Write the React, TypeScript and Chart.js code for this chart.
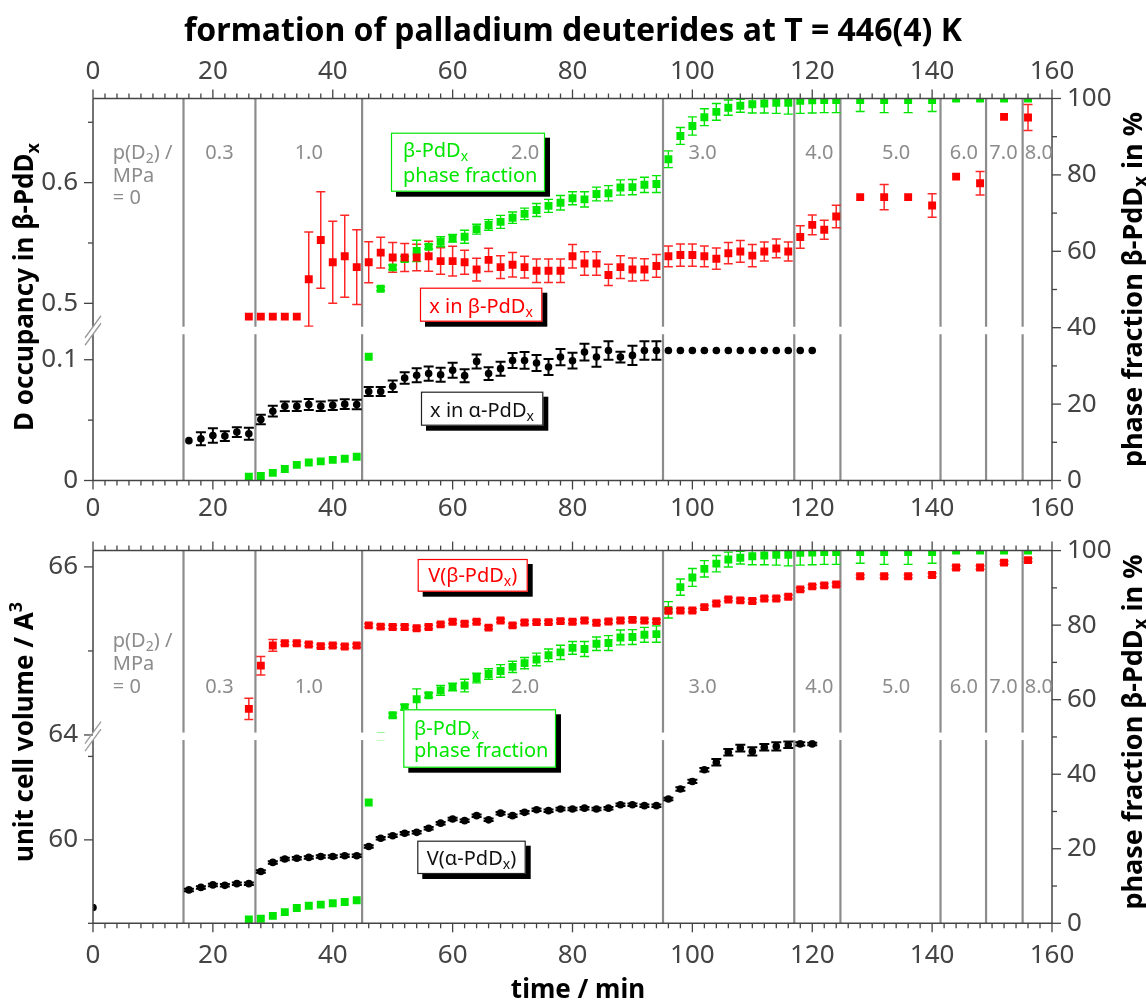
import React, { useEffect, useRef } from 'react';
import { Chart, registerables } from 'chart.js';

Chart.register(...registerables);

const FONT = "'Noto Sans', 'DejaVu Sans', sans-serif";
const AXIS = '#444444';
const GREY = '#8c8c8c';
const RED = '#ff0000';
const GREEN = '#00e600';
const BLACK = '#000000';

// ---------------- time axis ----------------
const timeMin = 0;
const timeMax = 160;
const timeTicks = Array.from({ length: 81 }, (_, i) => i * 2);
const timeLabelEvery = 20;

// ---------------- pressure steps ----------------
const pressureChangeTimes = [15.1, 27.1, 44.9, 95.1, 117.0, 124.7, 141.4, 149.0, 155.1];
const pressureValues = ['0.3', '1.0', '2.0', '3.0', '4.0', '5.0', '6.0', '7.0', '8.0'];
const pressureLabelTimes = [21.1, 36.0, 72.1, 101.7, 121.2, 134.0, 145.3, 151.9, 157.8];
const pressureHeaderTime = 3.3;

// ---------------- series ----------------
const timeBeta = [26, 28, 30, 32, 34, 36, 38, 40, 42, 44,
  46, 48, 50, 52, 54, 56, 58, 60, 62, 64,
  66, 68, 70, 72, 74, 76, 78, 80, 82, 84,
  86, 88, 90, 92, 94, 96, 98, 100, 102, 104,
  106, 108, 110, 112, 114, 116, 118, 120, 122, 124,
  128, 132, 136, 140, 144, 148, 152, 156];

const xBeta = [0.489, 0.489, 0.489, 0.489, 0.489, 0.520, 0.5525, 0.534, 0.539, 0.530,
  0.534, 0.542, 0.538, 0.538, 0.538, 0.539, 0.535, 0.535, 0.534, 0.528,
  0.536, 0.530, 0.532, 0.530, 0.527, 0.527, 0.527, 0.539, 0.533, 0.533,
  0.5235, 0.530, 0.528, 0.528, 0.531, 0.539, 0.540, 0.540, 0.539, 0.537,
  0.5415, 0.543, 0.5395, 0.543, 0.5455, 0.543, 0.555, 0.565, 0.561, 0.572,
  0.588, 0.588, 0.588, 0.581, 0.605, 0.5995, 0.6545, 0.654];

const xBetaErr = [0, 0, 0, 0, 0, 0.039, 0.040, 0.034, 0.034, 0.031,
  0.017, 0.0127, 0.0123, 0.0116, 0.011, 0.0124, 0.011, 0.0124, 0.010, 0.0094,
  0.0097, 0.0094, 0.0101, 0.009, 0.0097, 0.0097, 0.0097, 0.0097, 0.0097, 0.0097,
  0.0088, 0.0095, 0.0095, 0.009, 0.0094, 0.0086, 0.0092, 0.0092, 0.0086, 0.0088,
  0.0088, 0.009, 0.0092, 0.0079, 0.0077, 0.0079, 0.0093, 0.0081, 0.0079, 0.0093,
  0, 0.0104, 0, 0.0097, 0, 0.0097, 0, 0.0108];

const timeAlpha = [16, 18, 20, 22, 24, 26, 28, 30, 32, 34,
  36, 38, 40, 42, 44, 46, 48, 50, 52, 54,
  56, 58, 60, 62, 64, 66, 68, 70, 72, 74,
  76, 78, 80, 82, 84, 86, 88, 90, 92, 94,
  96, 98, 100, 102, 104, 106, 108, 110, 112, 114, 116, 118, 120];

const xAlpha = [0.033, 0.0346, 0.0373, 0.0368, 0.0401, 0.0387, 0.0505, 0.0574, 0.0615, 0.0615,
  0.0629, 0.0615, 0.0623, 0.0632, 0.0629, 0.0737, 0.0737, 0.078, 0.0849, 0.0871,
  0.0885, 0.0876, 0.0912, 0.0868, 0.0986, 0.0885, 0.0926, 0.0994, 0.0994, 0.0973,
  0.094, 0.1022, 0.0992, 0.1063, 0.1022, 0.1077, 0.1022, 0.1036, 0.1077, 0.1077,
  0.1077, 0.1077, 0.1077, 0.1077, 0.1077, 0.1077, 0.1077, 0.1077, 0.1077, 0.1077, 0.1077, 0.1077, 0.1077];

const xAlphaErr = [0, 0.0054, 0.006, 0.004, 0.004, 0.005, 0.004, 0.0045, 0.004, 0.004,
  0.0045, 0.004, 0.004, 0.004, 0.004, 0.0037, 0.0037, 0.0048, 0.0048, 0.0058,
  0.0059, 0.0058, 0.0062, 0.0054, 0.0058, 0.0052, 0.0058, 0.0062, 0.0069, 0.0066,
  0.0067, 0.0067, 0.0065, 0.0069, 0.0081, 0.0077, 0.0045, 0.008, 0.0077, 0.0077,
  0, 0, 0, 0, 0, 0, 0, 0, 0, 0, 0, 0, 0];

const phaseFraction = [1.0, 1.2, 2.0, 3.0, 4.1, 4.7, 5.0, 5.4, 5.7, 6.2,
  32.4, 50.2, 55.8, 58.0, 60.1, 61.2, 62.5, 63.4, 63.8, 65.8,
  66.9, 67.7, 68.8, 69.8, 70.8, 71.9, 72.7, 73.9, 73.6, 75.0,
  75.2, 76.7, 76.8, 77.4, 77.6, 84.1, 90.2, 92.8, 95.1, 96.5,
  97.6, 98.1, 98.5, 98.7, 98.9, 98.9, 99.4, 99.5, 99.6, 99.6,
  99.6, 99.6, 99.6, 99.6, 100, 100, 100, 100];

const phaseFractionErr = [0, 0, 0, 0, 0, 0, 0, 0, 0, 0,
  0, 0.5, 0.6, 0.7, 2.8, 0.6, 1.3, 1.0, 1.7, 1.3,
  1.4, 1.7, 1.5, 1.5, 1.7, 1.7, 1.9, 1.7, 2.0, 1.8,
  2.0, 2.0, 2.0, 2.0, 2.2, 2.2, 2.2, 2.4, 2.2, 2.2,
  2.0, 1.7, 2.3, 2.5, 2.8, 3.0, 3.3, 3.3, 3.3, 3.3,
  3.0, 3.3, 3.3, 3.0, 0, 0, 0, 0];

const volBeta = [64.311, 64.825, 65.065, 65.092, 65.092, 65.077, 65.057, 65.065, 65.053, 65.065,
  65.304, 65.289, 65.285, 65.285, 65.269, 65.285, 65.316, 65.347, 65.324, 65.347,
  65.277, 65.362, 65.304, 65.339, 65.343, 65.343, 65.355, 65.347, 65.362, 65.335,
  65.35, 65.362, 65.37, 65.362, 65.355, 65.478, 65.482, 65.482, 65.521, 65.565,
  65.613, 65.602, 65.594, 65.625, 65.625, 65.645, 65.733, 65.768, 65.78, 65.791,
  65.888, 65.888, 65.888, 65.904, 65.993, 65.993, 66.051, 66.081];

const volBetaErr = [0.126, 0.11, 0.07, 0.02, 0.02, 0.02, 0.02, 0.02, 0.02, 0.02,
  0.02, 0.02, 0.02, 0.02, 0.02, 0.02, 0.02, 0.02, 0.02, 0.02,
  0.02, 0.02, 0.02, 0.02, 0.02, 0.02, 0.02, 0.02, 0.02, 0.02,
  0.02, 0.02, 0.02, 0.02, 0.02, 0.02, 0.02, 0.02, 0.02, 0.02,
  0.02, 0.02, 0.02, 0.02, 0.02, 0.02, 0.02, 0.02, 0.02, 0.02,
  0.02, 0.02, 0.02, 0.02, 0.02, 0.02, 0.02, 0.02];

const timeVolAlpha = [0, 16, 18, 20, 22, 24, 26, 28, 30, 32, 34,
  36, 38, 40, 42, 44, 46, 48, 50, 52, 54,
  56, 58, 60, 62, 64, 66, 68, 70, 72, 74,
  76, 78, 80, 82, 84, 86, 88, 90, 92, 94,
  96, 98, 100, 102, 104, 106, 108, 110, 112, 114,
  116, 118, 120];

const volAlpha = [59.19, 59.40, 59.43, 59.46, 59.455, 59.475, 59.475, 59.62, 59.73, 59.77, 59.78,
  59.79, 59.80, 59.80, 59.81, 59.81, 59.92, 60.02, 60.05, 60.08, 60.09,
  60.14, 60.20, 60.25, 60.23, 60.29, 60.24, 60.32, 60.29, 60.33, 60.36,
  60.35, 60.37, 60.37, 60.38, 60.37, 60.38, 60.42, 60.42, 60.41, 60.41,
  60.49, 60.61, 60.70, 60.84, 60.93, 61.05, 61.10, 61.06, 61.11, 61.12,
  61.14, 61.15, 61.15];

const volAlphaErr = [0, 0.015, 0.015, 0.015, 0.015, 0.015, 0.015, 0.015, 0.015, 0.015, 0.015,
  0.015, 0.015, 0.015, 0.015, 0.015, 0.015, 0.015, 0.015, 0.015, 0.015,
  0.015, 0.015, 0.015, 0.015, 0.015, 0.015, 0.015, 0.015, 0.015, 0.015,
  0.015, 0.015, 0.015, 0.015, 0.015, 0.015, 0.015, 0.015, 0.015, 0.015,
  0.015, 0.02, 0.02, 0.02, 0.04, 0.04, 0.04, 0.05, 0.04, 0.05,
  0.04, 0.02, 0.015];

// ---------------- axis ticks ----------------
const occUpperTicks = [0.5, 0.55, 0.6, 0.65];
const occUpperLabels = ['0.5', '', '0.6', ''];
const occLowerTicks = [0, 0.05, 0.1];
const occLowerLabels = ['0', '', '0.1'];
const volUpperTicks = [64, 65, 66];
const volUpperLabels = ['64', '', '66'];
const volLowerTicks = [59, 60, 61];
const volLowerLabels = ['', '60', ''];
const fracTicks = [0, 10, 20, 30, 40, 50, 60, 70, 80, 90, 100];
const fracLabels = ['0', '', '20', '', '40', '', '60', '', '80', '', '100'];

// axis ranges (broken left axes)
const occUpperRange = [0.4775, 0.6697];
const occLowerRange = [0, 0.1242];
const volUpperRange = [63.984, 66.194];
const volLowerRange = [59.0, 61.241];
const fracRange = [0, 100];

// ---------------- drawing helpers ----------------
type Seg = { t: string; sub?: boolean; sup?: boolean };

function drawRich(ctx: CanvasRenderingContext2D, segs: Seg[], x: number, y: number, size: number,
  bold: boolean, color: string, align: 'left' | 'center' | 'right') {
  const w = bold ? 'bold ' : '';
  const big = `${w}${size}px ${FONT}`;
  const small = `${w}${Math.round(size * 0.7)}px ${FONT}`;
  const widths: number[] = [];
  let total = 0;
  for (const s of segs) {
    ctx.font = s.sub || s.sup ? small : big;
    const m = ctx.measureText(s.t).width;
    widths.push(m);
    total += m;
  }
  let cx = align === 'left' ? x : align === 'center' ? x - total / 2 : x - total;
  const base = y + size * 0.36;
  ctx.fillStyle = color;
  ctx.textAlign = 'left';
  ctx.textBaseline = 'alphabetic';
  segs.forEach((s, i) => {
    ctx.font = s.sub || s.sup ? small : big;
    const dy = s.sub ? size * 0.2 : s.sup ? -size * 0.42 : 0;
    ctx.fillText(s.t, cx, base + dy);
    cx += widths[i];
  });
}

function drawRotated(ctx: CanvasRenderingContext2D, segs: Seg[], cx: number, cy: number, size: number, color: string) {
  ctx.save();
  ctx.translate(cx, cy);
  ctx.rotate(-Math.PI / 2);
  drawRich(ctx, segs, 0, 0, size, true, color, 'center');
  ctx.restore();
}

interface BoxSpec {
  x1: number; y1: number; x2: number; y2: number;
  border: string; color: string; lines: Seg[][]; tx: number; ty: number[]; align: 'left' | 'center';
}

function drawBox(ctx: CanvasRenderingContext2D, b: BoxSpec) {
  const w = b.x2 - b.x1;
  const h = b.y2 - b.y1;
  ctx.fillStyle = '#000';
  ctx.fillRect(b.x1 + 5, b.y1 + 5, w, h);
  ctx.fillStyle = '#fff';
  ctx.fillRect(b.x1, b.y1, w, h);
  ctx.strokeStyle = b.border;
  ctx.lineWidth = 1.2;
  ctx.strokeRect(b.x1 + 0.5, b.y1 + 0.5, w - 1, h - 1);
  b.lines.forEach((segs, i) => drawRich(ctx, segs, b.tx, b.ty[i], 20, false, b.color, b.align));
}

function line(ctx: CanvasRenderingContext2D, x1: number, y1: number, x2: number, y2: number) {
  ctx.beginPath();
  ctx.moveTo(x1, y1);
  ctx.lineTo(x2, y2);
  ctx.stroke();
}

const BETA: Seg[] = [{ t: 'β-PdD' }, { t: 'x', sub: true }];
const HEADER: Seg[][] = [[{ t: 'p(D' }, { t: '2', sub: true }, { t: ') /' }], [{ t: 'MPa' }], [{ t: '= 0' }]];

interface ErrSet { ds: number; times: number[]; vals: number[]; errs: number[]; color: string; lw: number; cap: number }

interface PanelSpec {
  key: string;
  errors: ErrSet[];
  boxes: BoxSpec[];
  headerY: number[];
  numberY: number;
  draw: (ctx: CanvasRenderingContext2D, chart: any) => void;
}

function decorPlugin(spec: PanelSpec) {
  return {
    id: 'decor' + spec.key,
    beforeDatasetsDraw(chart: any) {
      const ctx: CanvasRenderingContext2D = chart.ctx;
      const a = chart.chartArea;
      const sx = chart.scales.x;
      ctx.save();
      ctx.strokeStyle = GREY;
      ctx.lineWidth = 2.2;
      for (const t of pressureChangeTimes) {
        const px = sx.getPixelForValue(t);
        line(ctx, px, a.top, px, a.bottom);
      }
      for (const es of spec.errors) {
        const meta = chart.getDatasetMeta(es.ds);
        const ys = chart.scales[meta.yAxisID];
        ctx.save();
        ctx.beginPath();
        ctx.rect(a.left, ys.top, a.right - a.left, ys.bottom - ys.top);
        ctx.clip();
        ctx.strokeStyle = es.color;
        ctx.lineWidth = es.lw;
        es.vals.forEach((v, j) => {
          const e = es.errs[j];
          if (!e) return;
          const x = sx.getPixelForValue(es.times[j]);
          const y1 = ys.getPixelForValue(v + e);
          const y2 = ys.getPixelForValue(v - e);
          ctx.beginPath();
          ctx.moveTo(x, y1); ctx.lineTo(x, y2);
          ctx.moveTo(x - es.cap, y1); ctx.lineTo(x + es.cap, y1);
          ctx.moveTo(x - es.cap, y2); ctx.lineTo(x + es.cap, y2);
          ctx.stroke();
        });
        ctx.restore();
      }
      ctx.restore();
    },
    afterDatasetsDraw(chart: any) {
      const ctx: CanvasRenderingContext2D = chart.ctx;
      const a = chart.chartArea;
      const yb = chart.scales.yHi.bottom;
      const g = 3.75;
      ctx.save();
      // axis break band
      ctx.fillStyle = '#ffffff';
      ctx.fillRect(a.left + 1, yb - g, a.right - a.left - 2, 2 * g);
      // frame
      ctx.strokeStyle = AXIS;
      ctx.lineWidth = 1.5;
      line(ctx, a.left, a.top, a.right, a.top);
      line(ctx, a.left, a.bottom, a.right, a.bottom);
      line(ctx, a.right, a.top, a.right, a.bottom);
      line(ctx, a.left, a.top, a.left, yb - g);
      line(ctx, a.left, yb + g, a.left, a.bottom);
      // tick marks
      ctx.lineWidth = 1.3;
      for (const t of chart.scales.x.ticks) {
        const px = chart.scales.x.getPixelForValue(t.value);
        const len = t.value % timeLabelEvery === 0 ? 9 : 5;
        line(ctx, px, a.bottom, px, a.bottom + len);
      }
      for (const t of chart.scales.x2.ticks) {
        const px = chart.scales.x2.getPixelForValue(t.value);
        const len = t.value % timeLabelEvery === 0 ? 9 : 5;
        line(ctx, px, a.top, px, a.top - len);
      }
      for (const id of ['yHi', 'yLo']) {
        const s = chart.scales[id];
        for (const t of s.ticks) {
          const py = s.getPixelForValue(t.value);
          line(ctx, a.left, py, a.left - (t.label ? 9 : 5), py);
        }
      }
      const sr = chart.scales.yR;
      for (const t of sr.ticks) {
        const py = sr.getPixelForValue(t.value);
        line(ctx, a.right, py, a.right + (t.label ? 9 : 5), py);
      }
      // break marker
      ctx.strokeStyle = '#9a9a9a';
      ctx.lineWidth = 1.3;
      for (const d of [-g, g]) line(ctx, a.left - 8, yb + d + 11, a.left + 8, yb + d - 11);
      // labelled boxes
      spec.boxes.forEach((b) => drawBox(ctx, b));
      // pressure annotations
      const sx = chart.scales.x;
      const hx = sx.getPixelForValue(pressureHeaderTime);
      HEADER.forEach((segs, i) => drawRich(ctx, segs, hx, spec.headerY[i], 20, false, GREY, 'left'));
      pressureValues.forEach((p, i) => {
        drawRich(ctx, [{ t: p }], sx.getPixelForValue(pressureLabelTimes[i]), spec.numberY, 20, false, GREY, 'center');
      });
      spec.draw(ctx, chart);
      ctx.restore();
    },
  };
}

function yScale(range: number[], ticks: number[], labels: string[], position: string, weight: number, stackWeight: number) {
  const o: any = {
    type: 'linear',
    position,
    min: range[0],
    max: range[1],
    weight,
    afterBuildTicks: (s: any) => { s.ticks = ticks.map((v) => ({ value: v })); },
    ticks: {
      callback: (_v: any, i: number) => labels[i] ?? '',
      autoSkip: false,
      padding: 15,
      color: AXIS,
      font: { family: FONT, size: 26 },
    },
    grid: { display: false, drawTicks: false },
    border: { display: false },
    afterFit: (s: any) => { s.width = position === 'left' ? 93 : 94; },
  };
  if (position === 'left') {
    o.stack = 'left';
    o.stackWeight = stackWeight;
  }
  return o;
}

function xScale(position: string, height: number, showLabels: boolean, pad: number) {
  return {
    type: 'linear',
    position,
    min: timeMin,
    max: timeMax,
    afterBuildTicks: (s: any) => { s.ticks = timeTicks.map((v) => ({ value: v })); },
    ticks: {
      display: showLabels,
      callback: (v: any) => (v % timeLabelEvery === 0 ? String(v) : ''),
      autoSkip: false,
      maxRotation: 0,
      minRotation: 0,
      padding: pad,
      color: AXIS,
      font: { family: FONT, size: 26 },
    },
    grid: { display: false, drawTicks: false },
    border: { display: false },
    afterFit: (s: any) => { s.height = height; },
  };
}

function pts(t: number[], v: number[]) {
  return t.map((x, i) => ({ x, y: v[i] }));
}

function buildConfig(opts: {
  red: { t: number[]; v: number[] }; black: { t: number[]; v: number[] };
  upper: { range: number[]; ticks: number[]; labels: string[]; w: number };
  lower: { range: number[]; ticks: number[]; labels: string[]; w: number };
  topH: number; bottomH: number; topLabels: boolean; topPad: number; bottomPad: number;
  spec: PanelSpec;
}): any {
  const sq = { pointStyle: 'rect', pointRadius: 5.6, pointBorderWidth: 0, showLine: false, clip: 0 };
  return {
    type: 'scatter',
    data: {
      datasets: [
        { ...sq, data: pts(opts.red.t, opts.red.v), xAxisID: 'x', yAxisID: 'yHi', backgroundColor: RED, borderColor: RED },
        { ...sq, data: pts(timeBeta, phaseFraction), xAxisID: 'x', yAxisID: 'yR', backgroundColor: GREEN, borderColor: GREEN },
        { pointStyle: 'circle', pointRadius: 3.8, pointBorderWidth: 0, showLine: false, clip: 0,
          data: pts(opts.black.t, opts.black.v), xAxisID: 'x', yAxisID: 'yLo', backgroundColor: BLACK, borderColor: BLACK },
      ],
    },
    options: {
      responsive: false,
      animation: false,
      devicePixelRatio: 1,
      events: [],
      layout: { padding: 0 },
      plugins: { legend: { display: false }, tooltip: { enabled: false }, title: { display: false } },
      scales: {
        x: xScale('bottom', opts.bottomH, true, opts.bottomPad),
        x2: xScale('top', opts.topH, opts.topLabels, opts.topPad),
        yLo: yScale(opts.lower.range, opts.lower.ticks, opts.lower.labels, 'left', 1, opts.lower.w),
        yHi: yScale(opts.upper.range, opts.upper.ticks, opts.upper.labels, 'left', 2, opts.upper.w),
        yR: yScale(fracRange, fracTicks, fracLabels, 'right', 1, 1),
      },
    },
    plugins: [decorPlugin(opts.spec)],
  };
}

const topSpec: PanelSpec = {
  key: 'top',
  errors: [
    { ds: 2, times: timeAlpha, vals: xAlpha, errs: xAlphaErr, color: BLACK, lw: 2, cap: 5 },
    { ds: 0, times: timeBeta, vals: xBeta, errs: xBetaErr, color: 'rgba(255,0,0,0.85)', lw: 1.5, cap: 4.5 },
    { ds: 1, times: timeBeta, vals: phaseFraction, errs: phaseFractionErr, color: GREEN, lw: 1.4, cap: 4.5 },
  ],
  boxes: [
    { x1: 391, y1: 132.7, x2: 545, y2: 191.7, border: GREEN, color: GREEN, lines: [BETA, [{ t: 'phase fraction' }]], tx: 403, ty: [150, 175], align: 'left' },
    { x1: 420, y1: 287.7, x2: 542.3, y2: 321.7, border: RED, color: RED, lines: [[{ t: 'x in β-PdD' }, { t: 'x', sub: true }]], tx: 481, ty: [306], align: 'center' },
    { x1: 421, y1: 391.7, x2: 543.3, y2: 425.7, border: '#222', color: '#111', lines: [[{ t: 'x in α-PdD' }, { t: 'x', sub: true }]], tx: 482, ty: [410], align: 'center' },
  ],
  headerY: [152, 175, 197],
  numberY: 152,
  draw: (ctx) => {
    drawRich(ctx, [{ t: 'formation of palladium deuterides at T = 446(4) K' }], 573, 29, 32, true, '#000', 'center');
    drawRotated(ctx, [{ t: 'D occupancy in β-PdD' }, { t: 'x', sub: true }], 24, 287, 26, '#000');
    drawRotated(ctx, [{ t: 'phase fraction β-PdD' }, { t: 'x', sub: true }, { t: ' in %' }], 1132, 289.5, 27, '#000');
  },
};

const bottomSpec: PanelSpec = {
  key: 'bottom',
  errors: [
    { ds: 2, times: timeVolAlpha, vals: volAlpha, errs: volAlphaErr, color: BLACK, lw: 2, cap: 5 },
    { ds: 0, times: timeBeta, vals: volBeta, errs: volBetaErr, color: 'rgba(255,0,0,0.85)', lw: 1.5, cap: 4.5 },
    { ds: 1, times: timeBeta, vals: phaseFraction, errs: phaseFractionErr, color: GREEN, lw: 1.4, cap: 4.5 },
  ],
  boxes: [
    { x1: 417.7, y1: 39, x2: 527.7, y2: 71.7, border: RED, color: RED, lines: [[{ t: 'V(β-PdD' }, { t: 'x', sub: true }, { t: ')' }]], tx: 472.7, ty: [55], align: 'center' },
    { x1: 403.3, y1: 189.3, x2: 556, y2: 247.7, border: GREEN, color: GREEN, lines: [BETA, [{ t: 'phase fraction' }]], tx: 414, ty: [208, 230], align: 'left' },
    { x1: 417.3, y1: 320.7, x2: 525.7, y2: 354, border: '#222', color: '#111', lines: [[{ t: 'V(α-PdD' }, { t: 'x', sub: true }, { t: ')' }]], tx: 471.5, ty: [337.5], align: 'center' },
  ],
  headerY: [120, 143, 166],
  numberY: 166,
  draw: (ctx) => {
    drawRotated(ctx, [{ t: 'unit cell volume / A' }, { t: '3', sup: true }], 24, 212, 26, '#000');
    drawRotated(ctx, [{ t: 'phase fraction β-PdD' }, { t: 'x', sub: true }, { t: ' in %' }], 1132, 212, 27, '#000');
    drawRich(ctx, [{ t: 'time / min' }], 578, 469, 26, true, '#000', 'center');
  },
};

export default function App() {
  const ref1 = useRef<HTMLCanvasElement>(null);
  const ref2 = useRef<HTMLCanvasElement>(null);

  useEffect(() => {
    Chart.defaults.font.family = FONT;
    const c1 = new Chart(ref1.current as HTMLCanvasElement, buildConfig({
      red: { t: timeBeta, v: xBeta },
      black: { t: timeAlpha, v: xAlpha },
      upper: { range: occUpperRange, ticks: occUpperTicks, labels: occUpperLabels, w: 232 },
      lower: { range: occLowerRange, ticks: occLowerTicks, labels: occLowerLabels, w: 150 },
      topH: 98.5, bottomH: 39.5, topLabels: true, topPad: 11, bottomPad: 12,
      spec: topSpec,
    }));
    const c2 = new Chart(ref2.current as HTMLCanvasElement, buildConfig({
      red: { t: timeBeta, v: volBeta },
      black: { t: timeVolAlpha, v: volAlpha },
      upper: { range: volUpperRange, ticks: volUpperTicks, labels: volUpperLabels, w: 190.5 },
      lower: { range: volLowerRange, ticks: volLowerTicks, labels: volLowerLabels, w: 191.8 },
      topH: 21, bottomH: 80.7, topLabels: false, topPad: 11, bottomPad: 16.5,
      spec: bottomSpec,
    }));
    return () => { c1.destroy(); c2.destroy(); };
  }, []);

  return (
    <div style={{ position: 'absolute', left: 0, top: 0, width: 1146, height: 1004, background: '#fff' }}>
      <canvas ref={ref1} width={1146} height={520} style={{ position: 'absolute', left: 0, top: 0, width: 1146, height: 520 }} />
      <canvas ref={ref2} width={1146} height={484} style={{ position: 'absolute', left: 0, top: 520, width: 1146, height: 484 }} />
    </div>
  );
}
